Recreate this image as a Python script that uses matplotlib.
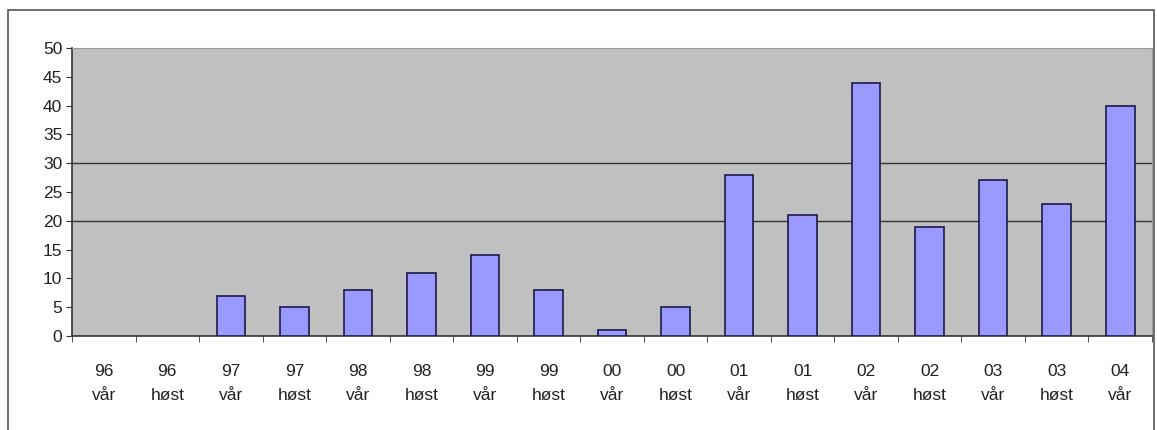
import numpy as np
import matplotlib
matplotlib.use('Agg')
import matplotlib.pyplot as plt
from matplotlib.patches import Rectangle

years = ['96', '96', '97', '97', '98', '98', '99', '99', '00', '00',
         '01', '01', '02', '02', '03', '03', '04']
seasons = ['vår', 'høst'] * 8 + ['vår']
values = [0, 0, 7, 5, 8, 11, 14, 8, 1, 5, 28, 21, 44, 19, 27, 23, 40]

plt.rcParams['font.family'] = ['Liberation Sans', 'DejaVu Sans']

fig = plt.figure(figsize=(11.57, 4.30), dpi=100)
fig.patches.append(Rectangle((8/1157, -0.01), 1146/1157, 1 - 10/430 + 0.01,
                             transform=fig.transFigure, fill=False,
                             edgecolor='#555555', linewidth=1.2))
ax = fig.add_axes([72/1157, 94/430, 1080/1157, 288/430])
ax.set_facecolor('#c0c0c0')

x = np.arange(len(values))
# no outline for empty bars
lw = [1.2 if v > 0 else 0 for v in values]
ax.bar(x, values, width=0.45, color='#9999ff', edgecolor='#1a1a4a', linewidth=lw, zorder=3)

ax.set_xlim(-0.5, len(values) - 0.5)
ax.set_ylim(0, 50)
ax.set_yticks(range(0, 51, 5))
for g in [20, 30]:
    ax.axhline(g, color='#333333', linewidth=1, zorder=2)

ax.set_xticks(x)
ax.set_xticklabels([f'{y}\n{s}' for y, s in zip(years, seasons)], fontsize=12.5,
                   linespacing=1.75, color='#222222')
ax.set_xticks(np.arange(-0.5, len(values)), minor=True)
ax.tick_params(axis='x', which='major', length=0, pad=20)
ax.tick_params(axis='x', which='minor', length=4, direction='out', color='#333333')
ax.tick_params(axis='y', labelsize=12.5, labelcolor='#222222', length=4, direction='out',
               color='#333333', pad=3)

for side in ['top', 'right']:
    ax.spines[side].set_color('#999999')
    ax.spines[side].set_linewidth(0.8)
for side in ['left', 'bottom']:
    ax.spines[side].set_color('#333333')
    ax.spines[side].set_linewidth(1.2)

fig.savefig('out.png', dpi=100)
